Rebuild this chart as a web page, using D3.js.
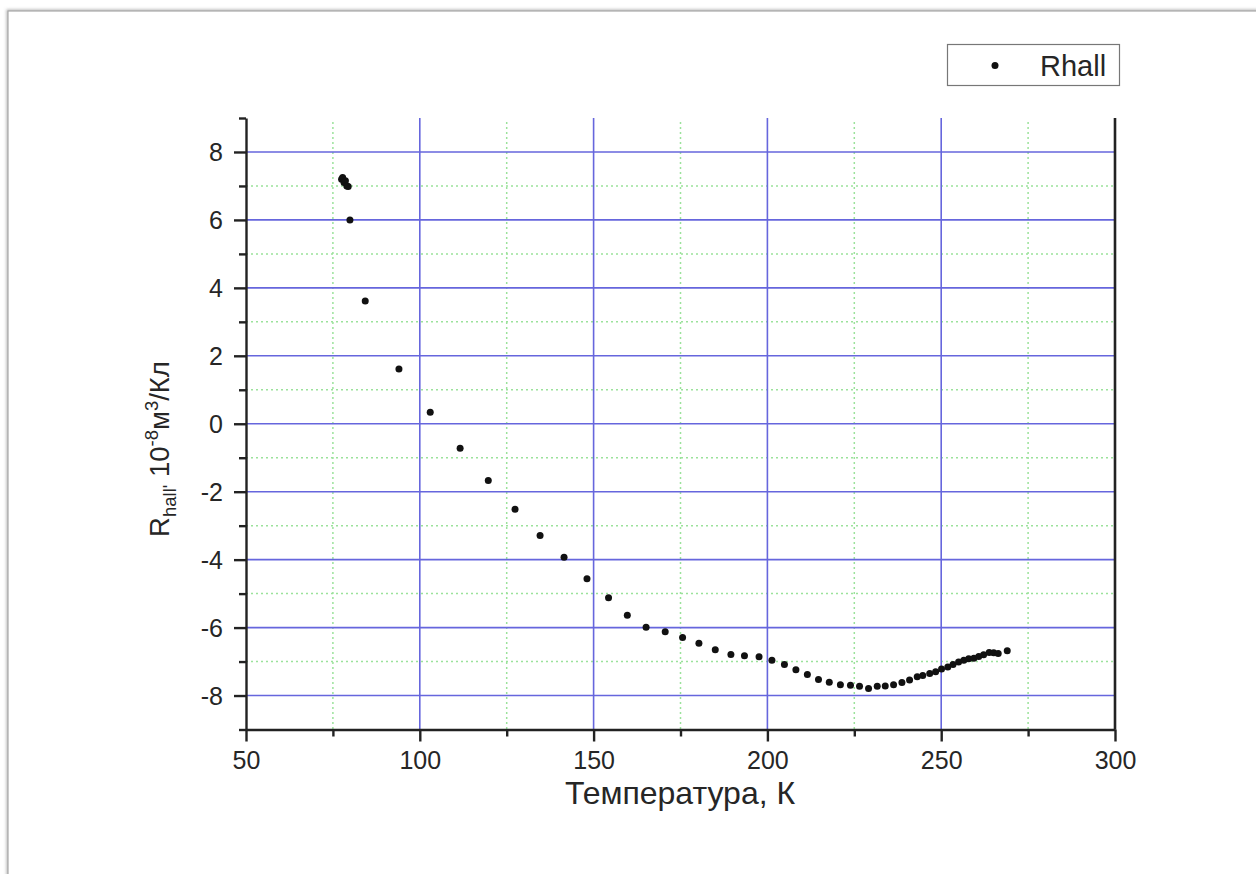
<!DOCTYPE html>
<html>
<head>
<meta charset="utf-8" />
<title></title>
<style>
html, body {
    padding: 0px;
    margin: 0px;
    background: #fff;
}
svg text {
    font-family: "Liberation Sans", Arial, sans-serif;
    fill: #262626;
}
</style>
</head>
<body>
<svg id="chart" width="1256" height="874"></svg>

<script src="https://d3js.org/d3.v7.min.js"></script>
<script>
!(function(){
    "use strict"

    // Rhall vs temperature
    var temps = [77.5, 77.8, 78.2, 78.6, 79.0, 79.4, 79.9, 84.3, 94.0, 103.0, 111.6, 119.7, 127.4, 134.6, 141.5,
        148.1, 154.3, 159.7, 165.1, 170.6, 175.6, 180.3, 185.0, 189.5, 193.4, 197.6, 201.3, 204.9, 208.2,
        211.5, 214.7, 217.8, 221.0, 223.9, 226.5, 229.1, 231.6, 233.9, 236.3, 238.7, 240.9, 243.1, 244.7,
        246.7, 248.4, 250.1, 251.9, 253.4, 255.0, 256.5, 257.9, 259.4, 260.8, 262.2, 263.8, 265.1, 266.4, 269.0]
    var rhall = [7.2, 7.25, 7.1, 7.15, 7.0, 6.98, 6.0, 3.61, 1.61, 0.34, -0.72, -1.67, -2.52, -3.29, -3.93,
        -4.56, -5.12, -5.64, -5.99, -6.12, -6.29, -6.46, -6.65, -6.79, -6.83, -6.86, -6.96, -7.09, -7.24,
        -7.38, -7.53, -7.61, -7.68, -7.70, -7.73, -7.79, -7.73, -7.72, -7.68, -7.62, -7.54, -7.45, -7.41,
        -7.35, -7.30, -7.22, -7.16, -7.09, -7.01, -6.96, -6.92, -6.90, -6.85, -6.80, -6.73, -6.74, -6.76, -6.68]

    var xMajor = [50, 100, 150, 200, 250, 300]
    var xMinor = [75, 125, 175, 225, 275]
    var yMajor = [-8, -6, -4, -2, 0, 2, 4, 6, 8]
    var yMinor = [-9, -7, -5, -3, -1, 1, 3, 5, 7, 9]

    var seriesName = "Rhall"
    var xTitle = "Температура, К"

    var svg = d3.select("#chart")

    // page frame with a soft shadow
    var defs = svg.append("defs")
    var f = defs.append("filter").attr("id", "shadow")
        .attr("x", "-5%").attr("y", "-5%").attr("width", "110%").attr("height", "110%")
    f.append("feDropShadow").attr("dx", -1).attr("dy", -1)
        .attr("stdDeviation", 1.5).attr("flood-color", "#888").attr("flood-opacity", 0.6)

    svg.append("rect")
        .attr("x", 8).attr("y", 11)
        .attr("width", 1300).attr("height", 900)
        .attr("fill", "#fff")
        .attr("stroke", "#a8a8a8").attr("stroke-width", 1.2)
        .attr("filter", "url(#shadow)")

    var x = d3.scaleLinear().domain([50, 300]).range([246, 1115])
    var y = d3.scaleLinear().domain([-9, 9]).range([729.5, 118])

    var plain = function(d){ return String(d) }   // hyphen minus, like the original

    var grid = svg.append("g")

    // minor grid, green dotted
    grid.selectAll("line.vmin").data(xMinor).enter().append("line")
        .attr("x1", function(d){ return x(d) }).attr("x2", function(d){ return x(d) })
        .attr("y1", y(9) + 4).attr("y2", y(-9))
        .attr("stroke", "#9be29b").attr("stroke-width", 1.5)
        .attr("stroke-dasharray", "2 3")
    grid.selectAll("line.hmin").data(yMinor.filter(function(d){ return d > -9 && d < 9 })).enter().append("line")
        .attr("x1", x(50)).attr("x2", x(300))
        .attr("y1", function(d){ return y(d) }).attr("y2", function(d){ return y(d) })
        .attr("stroke", "#9be29b").attr("stroke-width", 1.5)
        .attr("stroke-dasharray", "2 3")

    // major grid, blue
    grid.selectAll("line.vmaj").data(xMajor.filter(function(d){ return d > 50 && d < 300 })).enter().append("line")
        .attr("x1", function(d){ return x(d) }).attr("x2", function(d){ return x(d) })
        .attr("y1", y(9)).attr("y2", y(-9))
        .attr("stroke", "#6666dd").attr("stroke-width", 1.6)
    grid.selectAll("line.hmaj").data(yMajor).enter().append("line")
        .attr("x1", x(50)).attr("x2", x(300))
        .attr("y1", function(d){ return y(d) }).attr("y2", function(d){ return y(d) })
        .attr("stroke", "#6666dd").attr("stroke-width", 1.6)

    // axes
    var axG = svg.append("g")

    axG.append("g").attr("transform", "translate(0," + y(-9) + ")")
        .call(d3.axisBottom(x).tickValues(xMajor).tickSize(12).tickSizeOuter(0).tickPadding(10).tickFormat(plain))
    axG.append("g").attr("transform", "translate(0," + y(-9) + ")")
        .call(d3.axisBottom(x).tickValues(xMinor).tickSize(7).tickFormat(""))
        .select(".domain").remove()

    var left = axG.append("g").attr("transform", "translate(" + x(50) + ",0)")
        .call(d3.axisLeft(y).tickValues(yMajor).tickSize(12).tickSizeOuter(0).tickPadding(11).tickFormat(plain))
    axG.append("g").attr("transform", "translate(" + x(50) + ",0)")
        .call(d3.axisLeft(y).tickValues(yMinor).tickSize(7).tickFormat(""))
        .select(".domain").remove()

    axG.selectAll(".domain, .tick line").attr("stroke", "#222").attr("stroke-width", 2.4)
    axG.selectAll(".tick text")
        .attr("font-family", "Liberation Sans, Arial, sans-serif")
        .attr("font-size", 25).attr("fill", "#262626")
    left.selectAll(".tick text").attr("dy", "0.36em")

    // right border line
    axG.append("line")
        .attr("x1", x(300)).attr("x2", x(300))
        .attr("y1", y(9)).attr("y2", y(-9))
        .attr("stroke", "#222").attr("stroke-width", 2.6)

    // data points
    var pts = d3.range(temps.length)
    svg.append("g").selectAll("circle").data(pts).enter().append("circle")
        .attr("cx", function(i){ return x(temps[i]) })
        .attr("cy", function(i){ return y(rhall[i]) })
        .attr("r", 3.5)
        .attr("fill", "#111")

    // axis titles
    svg.append("text")
        .attr("x", 680).attr("y", 804)
        .attr("text-anchor", "middle")
        .attr("font-size", 32)
        .text(xTitle)

    var yt = svg.append("text")
        .attr("transform", "translate(169," + 449 + ") rotate(-90)")
        .attr("text-anchor", "middle")
        .attr("font-size", 27.5)
    yt.append("tspan").text("R")
    yt.append("tspan").attr("font-size", 18.5).attr("dy", 7).text("hall'")
    yt.append("tspan").attr("dy", -7).text(" 10")
    yt.append("tspan").attr("font-size", 18.5).attr("dy", -11).text("-8")
    yt.append("tspan").attr("dy", 11).text("м")
    yt.append("tspan").attr("font-size", 18.5).attr("dy", -11).text("3")
    yt.append("tspan").attr("dy", 11).text("/Кл")

    // legend
    var lg = svg.append("g")
    lg.append("rect")
        .attr("x", 947.5).attr("y", 44.5).attr("width", 172).attr("height", 41)
        .attr("fill", "#fff").attr("stroke", "#777").attr("stroke-width", 1.2)
    lg.append("circle").attr("cx", 995).attr("cy", 65.5).attr("r", 3.5).attr("fill", "#111")
    lg.append("text").attr("x", 1040).attr("y", 76)
        .attr("font-size", 29)
        .text(seriesName)

}());
</script>
</body>
</html>
